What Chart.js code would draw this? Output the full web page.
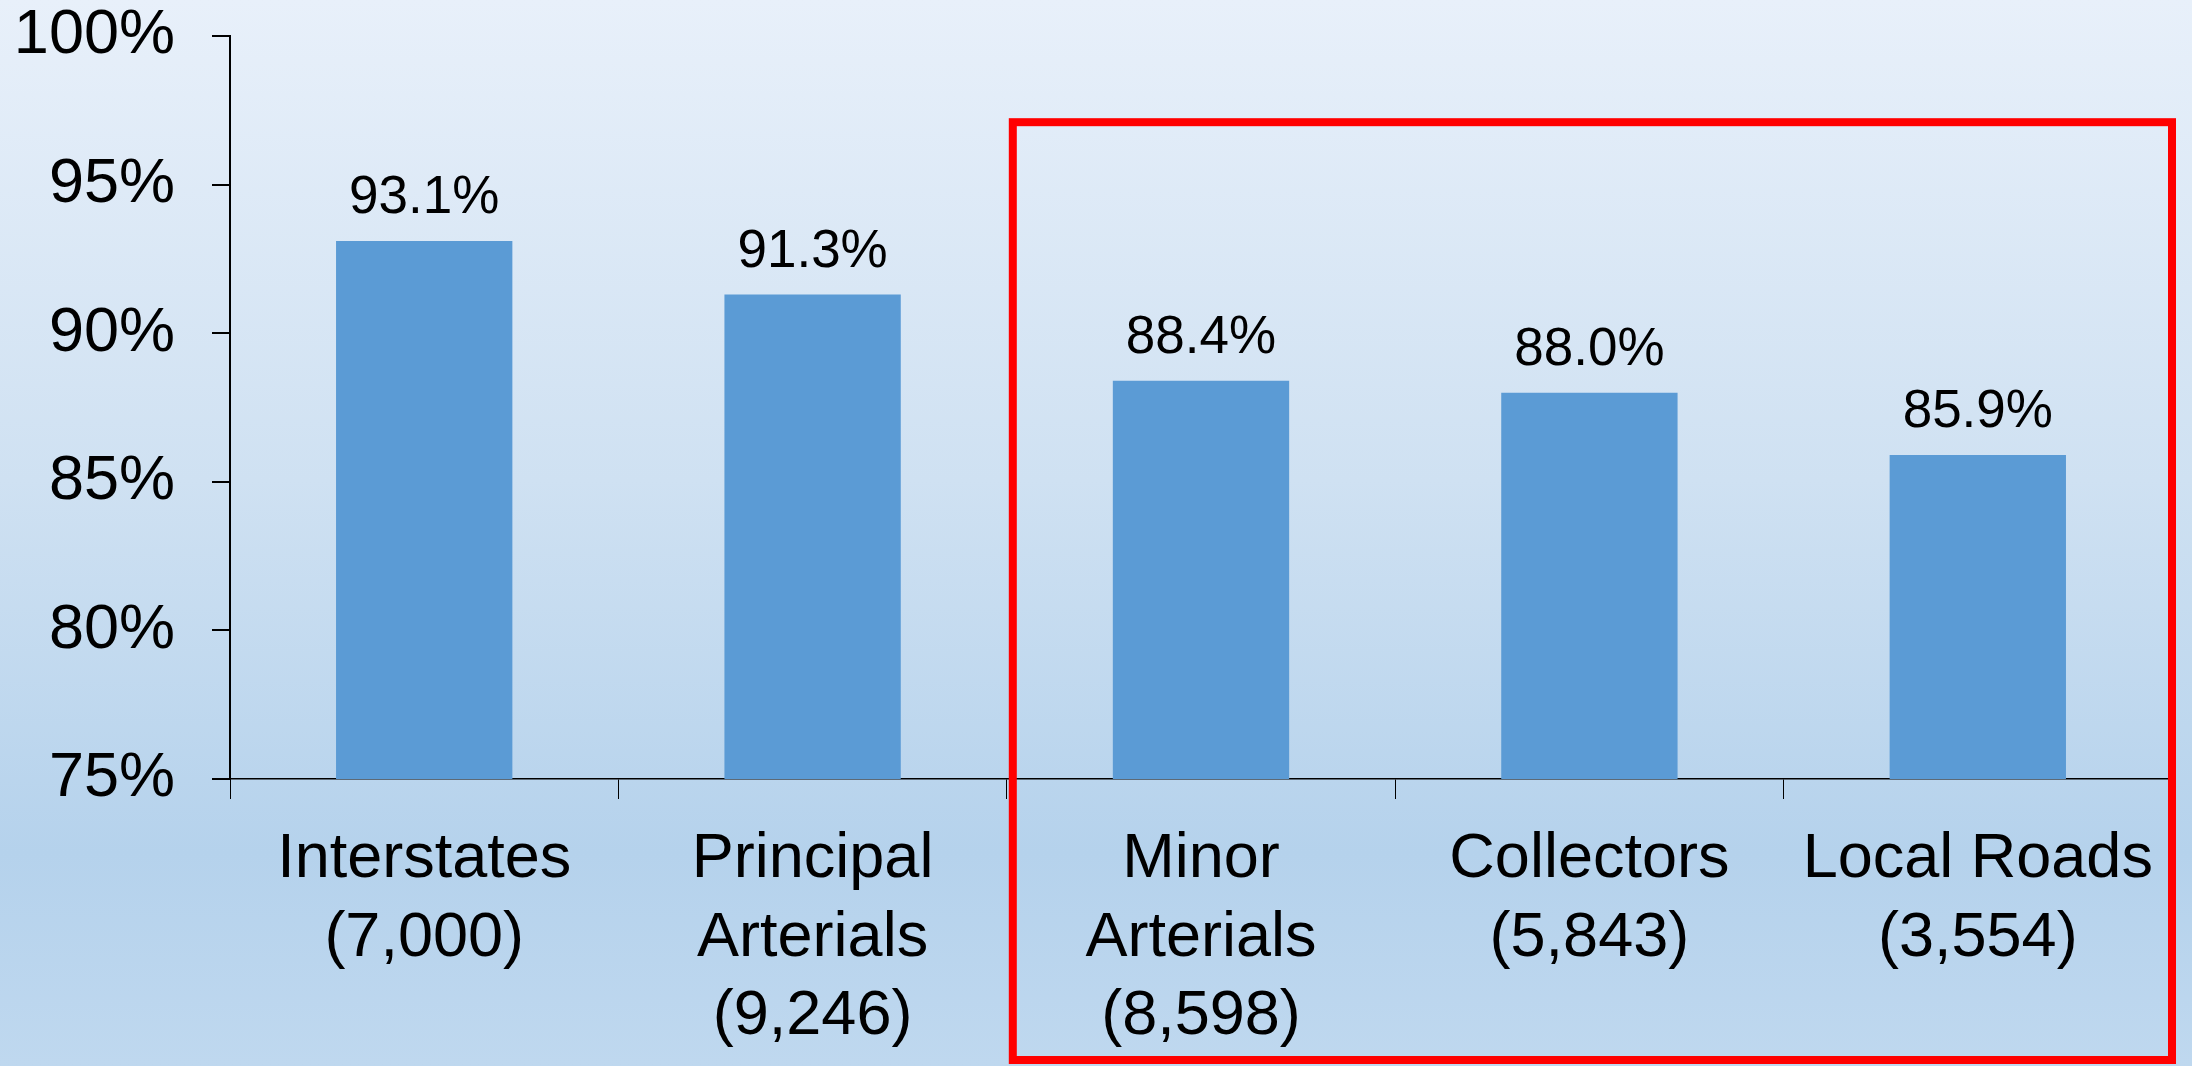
<!DOCTYPE html>
<html>
<head>
<meta charset="utf-8">
<script src="https://cdn.jsdelivr.net/npm/chart.js@4.4.1/dist/chart.umd.min.js"></script>
<style>
    html, body { margin: 0; padding: 0; }
    body {
        width: 2192px; height: 1066px; overflow: hidden;
        background: linear-gradient(to bottom, #E8F0FA 0%, #CFE1F2 45%, #B5D2EC 80%, #BFD8EF 100%);
    }
    #zone { position: relative; width: 2192px; height: 1066px; }
</style>
</head>
<body>
<div id="zone"><canvas id="graph"></canvas></div>
<script>
// Catégories de routes (avec nombre entre parenthèses)
const categories = [
    ['Interstates', '(7,000)'],
    ['Principal', 'Arterials', '(9,246)'],
    ['Minor', 'Arterials', '(8,598)'],
    ['Collectors', '(5,843)'],
    ['Local Roads', '(3,554)']
];
// Valeurs en pourcentage
const valeurs = [93.1, 91.3, 88.4, 88.0, 85.9];
// Graduations de l'axe Y
const graduations = [75, 80, 85, 90, 95, 100];

const police = "'Liberation Sans', Arial, sans-serif";

// Étiquettes au-dessus des barres
const etiquettes = {
    id: 'etiquettes',
    afterDatasetsDraw(chart) {
        const ctx = chart.ctx;
        const meta = chart.getDatasetMeta(0);
        ctx.save();
        ctx.font = '53px ' + police;
        ctx.fillStyle = '#000';
        ctx.textAlign = 'center';
        ctx.textBaseline = 'alphabetic';
        meta.data.forEach((barre, i) => {
            ctx.fillText(valeurs[i].toFixed(1) + '%', barre.x, barre.y - 28);
        });
        ctx.restore();
    }
};

// Cadre rouge autour des trois dernières catégories
const cadre = {
    id: 'cadre',
    afterDraw(chart) {
        const x = chart.scales.x, y = chart.scales.y;
        const demi = (x.getPixelForValue(1) - x.getPixelForValue(0)) / 2;
        const gauche = x.getPixelForValue(2) - demi + 6;
        const droite = chart.chartArea.right;
        const haut = y.getPixelForValue(97.1);
        const bas = chart.height - 6;
        const ctx = chart.ctx;
        ctx.save();
        ctx.strokeStyle = '#FF0000';
        ctx.lineWidth = 8;
        ctx.strokeRect(gauche, haut, droite - gauche, bas - haut);
        ctx.restore();
    }
};

new Chart(document.getElementById('graph'), {
    type: 'bar',
    data: {
        labels: categories,
        datasets: [{
            data: valeurs,
            backgroundColor: '#5B9BD5',
            borderWidth: 0,
            barPercentage: 0.454,
            categoryPercentage: 1
        }]
    },
    options: {
        responsive: true,
        maintainAspectRatio: false,
        animation: false,
        layout: { padding: { top: 36, right: 20, left: 0, bottom: 0 } },
        plugins: {
            legend: { display: false },
            tooltip: { enabled: false }
        },
        scales: {
            x: {
                afterFit: (s) => { s.height = 287; s.paddingLeft = 0; s.paddingRight = 0; },
                grid: { display: true, drawOnChartArea: false, drawTicks: true, tickLength: 20, color: '#000', offset: true },
                border: { color: '#000', width: 1.5 },
                ticks: {
                    color: '#000',
                    font: { family: police, size: 63, lineHeight: 1.24 },
                    padding: 22,
                    maxRotation: 0,
                    autoSkip: false
                }
            },
            y: {
                min: graduations[0],
                max: graduations[graduations.length - 1],
                afterFit: (s) => { s.width = 230; s.paddingTop = 0; s.paddingBottom = 0; },
                afterBuildTicks: (s) => { s.ticks = graduations.map(v => ({ value: v })); },
                grid: { display: true, drawOnChartArea: false, drawTicks: true, tickLength: 18, color: '#000', lineWidth: 2 },
                border: { color: '#000', width: 2 },
                ticks: {
                    color: '#000',
                    font: { family: police, size: 63, lineHeight: 1.14 },
                    padding: 37,
                    callback: (v) => v + '%'
                }
            }
        }
    },
    plugins: [etiquettes, cadre]
});
</script>
</body>
</html>
